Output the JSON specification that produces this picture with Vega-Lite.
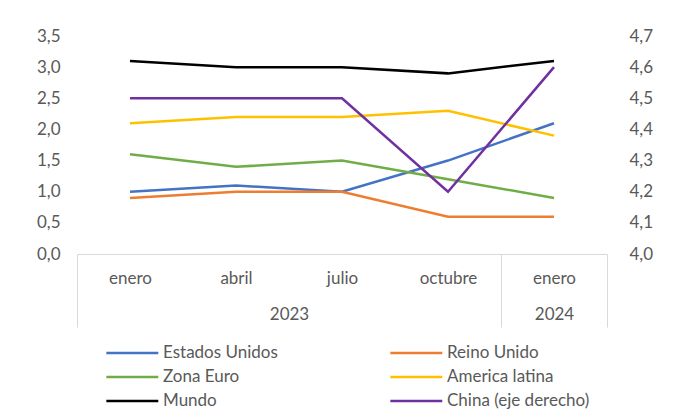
{
  "$schema": "https://vega.github.io/schema/vega-lite/v6.json",
  "width": 530,
  "height": 218,
  "autosize": {"type": "none"},
  "padding": {"left": 77, "top": 36, "right": 93, "bottom": 166},
  "background": "white",
  "config": {
    "view": {"stroke": null},
    "font": "Lato",
    "axis": {"labelFont": "Lato", "labelFontSize": 17, "labelColor": "#595959", "grid": false, "title": null}
  },
  "data": {
    "values": [
      {"i": 0, "serie": "Estados Unidos", "valor": 1.0},
      {"i": 1, "serie": "Estados Unidos", "valor": 1.1},
      {"i": 2, "serie": "Estados Unidos", "valor": 1.0},
      {"i": 3, "serie": "Estados Unidos", "valor": 1.5},
      {"i": 4, "serie": "Estados Unidos", "valor": 2.1},
      {"i": 0, "serie": "Reino Unido", "valor": 0.9},
      {"i": 1, "serie": "Reino Unido", "valor": 1.0},
      {"i": 2, "serie": "Reino Unido", "valor": 1.0},
      {"i": 3, "serie": "Reino Unido", "valor": 0.6},
      {"i": 4, "serie": "Reino Unido", "valor": 0.6},
      {"i": 0, "serie": "Zona Euro", "valor": 1.6},
      {"i": 1, "serie": "Zona Euro", "valor": 1.4},
      {"i": 2, "serie": "Zona Euro", "valor": 1.5},
      {"i": 3, "serie": "Zona Euro", "valor": 1.2},
      {"i": 4, "serie": "Zona Euro", "valor": 0.9},
      {"i": 0, "serie": "America latina", "valor": 2.1},
      {"i": 1, "serie": "America latina", "valor": 2.2},
      {"i": 2, "serie": "America latina", "valor": 2.2},
      {"i": 3, "serie": "America latina", "valor": 2.3},
      {"i": 4, "serie": "America latina", "valor": 1.9},
      {"i": 0, "serie": "Mundo", "valor": 3.1},
      {"i": 1, "serie": "Mundo", "valor": 3.0},
      {"i": 2, "serie": "Mundo", "valor": 3.0},
      {"i": 3, "serie": "Mundo", "valor": 2.9},
      {"i": 4, "serie": "Mundo", "valor": 3.1},
      {"i": 0, "serie": "China (eje derecho)", "valor": 4.5},
      {"i": 1, "serie": "China (eje derecho)", "valor": 4.5},
      {"i": 2, "serie": "China (eje derecho)", "valor": 4.5},
      {"i": 3, "serie": "China (eje derecho)", "valor": 4.2},
      {"i": 4, "serie": "China (eje derecho)", "valor": 4.6}
    ]
  },
  "layer": [
    {
      "transform": [{"filter": "datum.serie !== 'China (eje derecho)'"}],
      "mark": {"type": "line", "strokeWidth": 2.5},
      "encoding": {
        "x": {
          "field": "i", "type": "quantitative",
          "scale": {"domain": [-0.5, 4.5], "nice": false, "zero": false},
          "axis": {
            "values": [0, 1, 2, 3, 4],
            "labelExpr": "['enero','abril','julio','octubre','enero'][datum.value]",
            "ticks": false, "domain": true, "domainColor": "#d9d9d9", "domainWidth": 1,
            "labelPadding": 16, "labelFlush": false, "labelOverlap": false
          }
        },
        "y": {
          "field": "valor", "type": "quantitative",
          "scale": {"domain": [0, 3.5], "nice": false},
          "axis": {
            "values": [0, 0.5, 1, 1.5, 2, 2.5, 3, 3.5],
            "labelExpr": "replace(format(datum.value, '.1f'), '.', ',')",
            "domain": false, "ticks": false, "labelPadding": 17
          }
        },
        "color": {
          "field": "serie", "type": "nominal",
          "scale": {
            "domain": ["Estados Unidos", "Zona Euro", "Mundo", "Reino Unido", "America latina", "China (eje derecho)"],
            "range": ["#4472C4", "#70AD47", "#000000", "#ED7D31", "#FFC000", "#7030A0"]
          },
          "legend": {
            "title": null, "orient": "none", "legendX": 28, "legendY": 307,
            "columns": 2, "columnPadding": 107, "rowPadding": 6,
            "symbolType": "M-1,0H5", "symbolSize": 300, "symbolStrokeWidth": 2.5,
            "labelFont": "Lato", "labelFontSize": 17, "labelColor": "#595959",
            "labelOffset": 38, "labelLimit": 300, "padding": 0
          }
        }
      }
    },
    {
      "transform": [{"filter": "datum.serie === 'China (eje derecho)'"}],
      "mark": {"type": "line", "strokeWidth": 2.5},
      "encoding": {
        "x": {
          "field": "i", "type": "quantitative",
          "scale": {"domain": [-0.5, 4.5], "nice": false, "zero": false},
          "axis": {
            "orient": "bottom",
            "values": [-0.5, 1.5, 3.5, 4, 4.5],
            "labelExpr": "datum.value == 1.5 ? '2023' : (datum.value == 4 ? '2024' : '')",
            "ticks": true, "tickSize": 73, "tickColor": "#d9d9d9", "tickWidth": 1,
            "tickOpacity": {"condition": {"test": "datum.value == 1.5 || datum.value == 4", "value": 0}, "value": 1},
            "domain": false, "labelPadding": -21, "labelFlush": false, "labelOverlap": false, "labelBound": false
          }
        },
        "y": {
          "field": "valor", "type": "quantitative",
          "scale": {"domain": [4.0, 4.7], "nice": false, "zero": false},
          "axis": {
            "orient": "right",
            "values": [4.0, 4.1, 4.2, 4.3, 4.4, 4.5, 4.6, 4.7],
            "labelExpr": "replace(format(datum.value, '.1f'), '.', ',')",
            "domain": false, "ticks": false, "labelPadding": 22
          }
        },
        "color": {"field": "serie", "type": "nominal"}
      }
    }
  ],
  "resolve": {
    "scale": {"y": "independent"},
    "axis": {"x": "independent", "y": "independent"}
  }
}
